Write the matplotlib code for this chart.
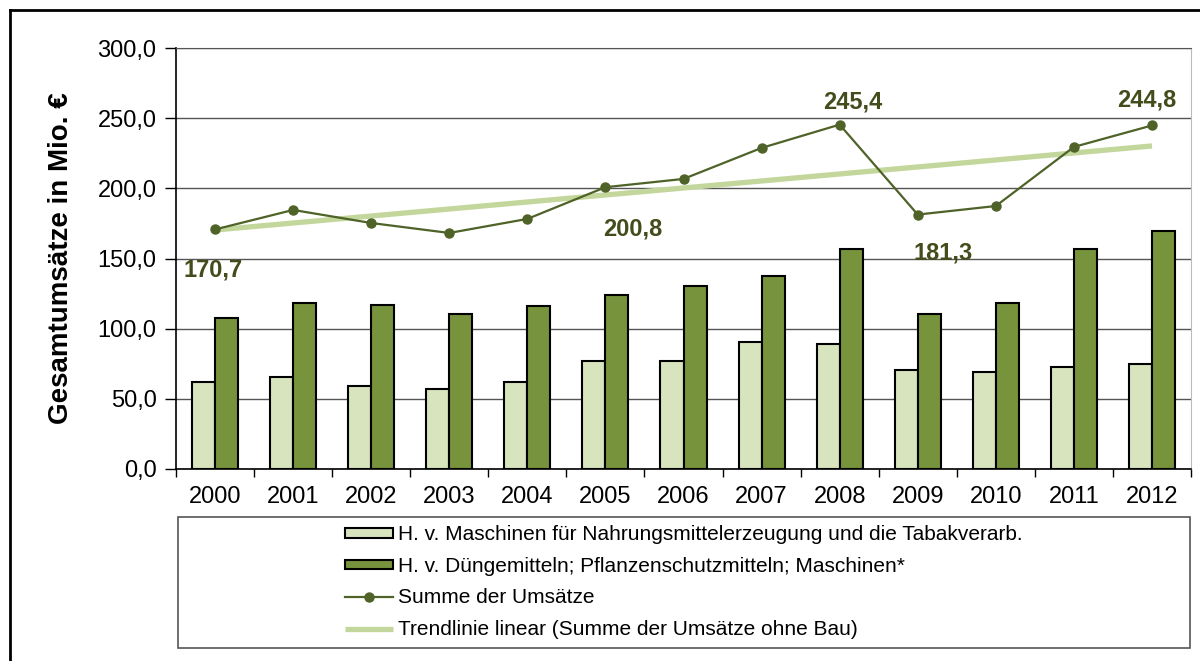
import matplotlib
matplotlib.use("Agg")
import matplotlib.pyplot as plt
from matplotlib.lines import Line2D
from matplotlib.patches import Rectangle
import numpy as np

plt.rcParams['font.family'] = ['Liberation Sans', 'DejaVu Sans']

years = ['2000', '2001', '2002', '2003', '2004', '2005', '2006',
         '2007', '2008', '2009', '2010', '2011', '2012']
nahrung = [62.0, 65.6, 59.0, 57.0, 62.0, 77.0, 77.0, 90.5, 89.0, 70.5, 69.0, 72.7, 74.8]
duenger = [107.6, 118.3, 116.9, 110.5, 116.2, 124.0, 130.4, 137.6, 156.8, 110.5, 118.3, 156.8, 169.6]
summe = [170.7, 184.6, 175.3, 168.2, 178.2, 200.8, 206.7, 228.8, 245.4, 181.3, 187.4, 229.5, 244.8]
trend_years = ['2000', '2012']
trend_vals = [170.3, 230.2]

labels_shown = {0: '170,7', 5: '200,8', 8: '245,4', 9: '181,3', 12: '244,8'}
label_offsets = {0: (-2, -41), 5: (27, -42), 8: (13, 23), 9: (25, -38), 12: (-5, 25)}

leg_labels = ['H. v. Maschinen für Nahrungsmittelerzeugung und die Tabakverarb.',
              'H. v. Düngemitteln; Pflanzenschutzmitteln; Maschinen*',
              'Summe der Umsätze',
              'Trendlinie linear (Summe der Umsätze ohne Bau)']

c_light = '#d7e4bd'
c_dark = '#77933c'
c_line = '#4f6228'
c_trend = '#c3d69b'
c_lab = '#434d1c'

fig = plt.figure(figsize=(12, 6.61), dpi=100)
ax = fig.add_axes([176/1200, 1-469/661, (1191-176)/1200, (469-48)/661])

x = np.arange(len(years))
bw = 0.295
b1 = ax.bar(x - bw/2, nahrung, bw, color=c_light, edgecolor='black', linewidth=1.5, zorder=3)
b2 = ax.bar(x + bw/2, duenger, bw, color=c_dark, edgecolor='black', linewidth=1.5, zorder=3)
tx = [years.index(t) for t in trend_years]
l2, = ax.plot(tx, trend_vals, color=c_trend, linewidth=3.8, solid_capstyle='butt', zorder=4)
l1, = ax.plot(x, summe, color=c_line, linewidth=1.6, marker='o', markersize=6.5, zorder=5)

for i, txt in labels_shown.items():
    ax.annotate(txt, (x[i], summe[i]), xytext=label_offsets[i], textcoords='offset pixels',
                ha='center', va='center', fontsize=17, fontweight='bold', color=c_lab, zorder=6)

ax.set_xlim(-0.5, len(years) - 0.5)
ax.set_ylim(0, 300)
ax.set_yticks(np.arange(0, 301, 50))
ax.set_yticklabels([f'{v:.1f}'.replace('.', ',') for v in np.arange(0, 301, 50)], fontsize=17)
ax.set_xticks(x)
ax.set_xticklabels(years, fontsize=17)
ax.set_xticks(np.arange(-0.5, len(years), 1), minor=True)
ax.tick_params(axis='x', which='major', length=0, pad=12)
ax.tick_params(axis='x', which='minor', length=6, width=1, direction='out')
ax.tick_params(axis='y', length=8, width=1, direction='out', pad=6)
ax.grid(axis='y', color='#555555', linewidth=1, zorder=0)
ax.set_axisbelow(True)
for s in ['left', 'bottom']:
    ax.spines[s].set_color('black')
    ax.spines[s].set_linewidth(1.2)
ax.spines['top'].set_color('#555555')
ax.spines['right'].set_color('#bbbbbb')
ax.set_ylabel('Gesamtumsätze in Mio. €', fontsize=20, fontweight='bold', labelpad=17)

# legend box
fig.add_artist(Rectangle((178/1200, 1-648/661), (1190-178)/1200, (648-517)/661,
                         transform=fig.transFigure, facecolor='none', edgecolor='#555555', linewidth=1.2))
leg = fig.legend([b1, b2, l1, l2], leg_labels, loc='upper left',
                 bbox_to_anchor=(335/1200, 1-515/661), frameon=False, fontsize=15,
                 handlelength=2.3, handleheight=0.3, handletextpad=0.2,
                 labelspacing=0.6, borderpad=0)

# figure border (left and top)
fig.add_artist(Line2D([10/1200, 10/1200], [0, 1-10/661], transform=fig.transFigure, color='black', linewidth=2))
fig.add_artist(Line2D([10/1200, 1], [1-10/661, 1-10/661], transform=fig.transFigure, color='black', linewidth=2))

fig.savefig('out.png', dpi=100)
